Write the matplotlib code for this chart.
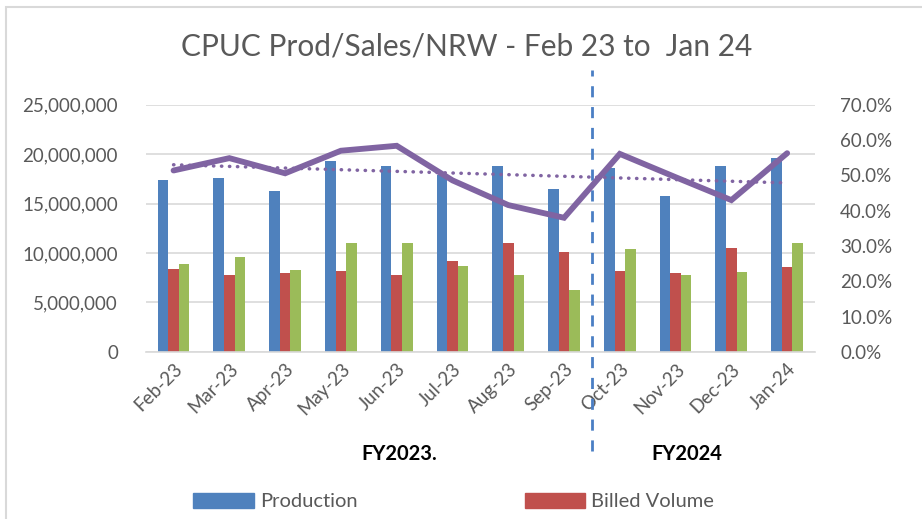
import numpy as np
import matplotlib.pyplot as plt
from matplotlib.patches import Rectangle, Patch
import matplotlib.transforms as mtransforms
from matplotlib.ticker import FuncFormatter

# --- Data ---
months = ['Feb-23', 'Mar-23', 'Apr-23', 'May-23', 'Jun-23', 'Jul-23',
          'Aug-23', 'Sep-23', 'Oct-23', 'Nov-23', 'Dec-23', 'Jan-24']
production = [17.4e6, 17.55e6, 16.3e6, 19.3e6, 18.8e6, 17.9e6,
              18.8e6, 16.5e6, 18.6e6, 15.8e6, 18.8e6, 19.6e6]
billed = [8.4e6, 7.8e6, 7.95e6, 8.15e6, 7.8e6, 9.2e6,
          11.0e6, 10.1e6, 8.15e6, 7.95e6, 10.5e6, 8.55e6]
nrw_volume = [8.9e6, 9.65e6, 8.3e6, 11.0e6, 11.0e6, 8.7e6,
              7.8e6, 6.3e6, 10.4e6, 7.8e6, 8.05e6, 11.0e6]
nrw_pct = [51.4, 54.9, 50.6, 57.0, 58.4, 48.6,
           41.6, 38.0, 56.1, 49.5, 43.0, 56.3]
fy_labels = ['FY2023.', 'FY2024']

# --- Style ---
BLUE = '#4F81BD'
RED = '#C0504D'
GREEN = '#9BBB59'
PURPLE = '#8064A2'
GREY_TXT = '#595959'
GRID = '#D9D9D9'
FONT = 'Lato'

plt.rcParams['font.family'] = [FONT, 'DejaVu Sans']

fig = plt.figure(figsize=(9.22, 5.19), dpi=100)
ax = fig.add_axes([0.158, 0.322, 0.726, 0.476])

x = np.arange(len(months))
w = 0.19
ax.bar(x - w, production, w, color=BLUE, label='Production')
ax.bar(x, billed, w, color=RED, label='Billed Volume')
ax.bar(x + w, nrw_volume, w, color=GREEN, label='NRW Volume')

ax.set_ylim(0, 25e6)
ax.set_xlim(-0.5, len(months) - 0.5)
ax.set_yticks(np.arange(0, 25e6 + 1, 5e6))
ax.yaxis.set_major_formatter(FuncFormatter(lambda v, p: f'{v:,.0f}'))
ax.grid(axis='y', color=GRID, lw=1.2)
ax.set_axisbelow(True)
for s in ['top', 'left', 'right']:
    ax.spines[s].set_visible(False)
ax.spines['bottom'].set_color(GRID)
ax.spines['bottom'].set_linewidth(1.2)
ax.tick_params(length=0, labelsize=13.5, colors=GREY_TXT, pad=20)
ax.tick_params(axis='x', pad=6)
ax.set_xticks(x)
ax.set_xticklabels(months, rotation=45, ha='right', rotation_mode='anchor')

# --- Secondary axis: NRW % and linear trend ---
ax2 = ax.twinx()
ax2.set_ylim(0, 70)
ax2.set_yticks(np.arange(0, 71, 10))
ax2.yaxis.set_major_formatter(FuncFormatter(lambda v, p: f'{v:.1f}%'))
for s in ax2.spines.values():
    s.set_visible(False)
ax2.tick_params(length=0, labelsize=13.5, colors=GREY_TXT, pad=18)
ax2.plot(x, nrw_pct, color=PURPLE, lw=4.2, solid_capstyle='round',
         solid_joinstyle='miter')
coef = np.polyfit(x, nrw_pct, 1)
ax2.plot(x, np.polyval(coef, x), color=PURPLE, lw=2.5, ls=(0, (0.1, 2.2)),
         dash_capstyle='round')

# --- Fiscal year divider ---
trans = mtransforms.blended_transform_factory(ax.transData, ax.transAxes)
ax.plot([7.5, 7.5], [-0.40, 1.14], transform=trans, color='#4A7EC4',
        lw=2, ls=(0, (4, 3.5)), clip_on=False)
ax.text(4.05, -0.415, fy_labels[0], transform=trans, ha='center',
        va='center', fontsize=14.5, fontweight='bold', color='black')
ax.text(9.2, -0.415, fy_labels[1], transform=trans, ha='center',
        va='center', fontsize=14.5, fontweight='bold', color='black')

# --- Title ---
fig.text(0.506, 0.91, 'CPUC Prod/Sales/NRW - Feb 23 to  Jan 24',
         ha='center', va='center', fontsize=21.5, color=GREY_TXT)

# --- Legend (bottom, partially visible) ---
handles = [Patch(color=BLUE), Patch(color=RED)]
fig.legend(handles, ['Production', 'Billed Volume'], loc='center',
           bbox_to_anchor=(0.492, 0.034), ncol=2, frameon=False,
           fontsize=14.5, labelcolor=GREY_TXT, handlelength=3.0,
           handleheight=0.8, columnspacing=8.3, handletextpad=0.3)

# --- Chart border ---
fig.patches.append(Rectangle((0.006, -0.05), 1.2, 1.036,
                             transform=fig.transFigure, fill=False,
                             edgecolor='#D9D9D9', lw=1.5))

fig.savefig('out.png', dpi=100)
